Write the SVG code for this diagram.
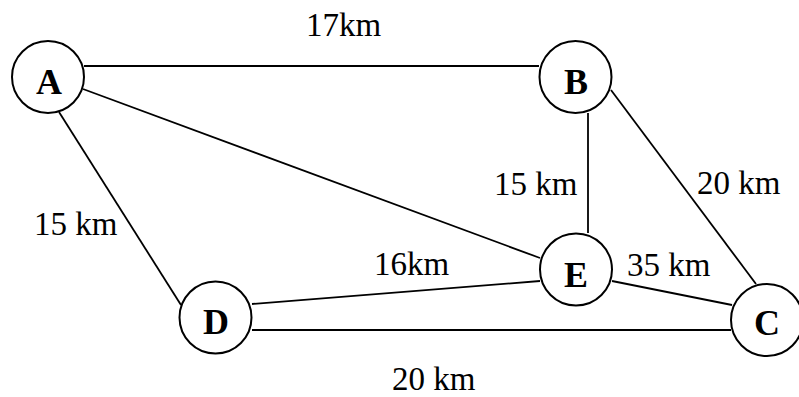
<svg xmlns="http://www.w3.org/2000/svg" width="799" height="397" viewBox="0 0 799 397">
<style>
.n circle{fill:#fff;stroke:#000;stroke-width:2}
.n text{font-family:"Liberation Serif",serif;font-weight:bold;font-size:36px;text-anchor:middle;fill:#000}
.e line{stroke:#000;stroke-width:1.8}
.l{font-family:"Liberation Serif",serif;font-size:33px;fill:#000}
</style>
<rect width="799" height="397" fill="#fff"/>
<g id="connectors" class="e">
<line x1="84" y1="66" x2="539" y2="66"/>
<line x1="83" y1="89" x2="540" y2="258"/>
<line x1="59" y1="112" x2="181" y2="305"/>
<line x1="588" y1="113" x2="588" y2="233"/>
<line x1="611" y1="90" x2="756" y2="284"/>
<line x1="252" y1="304" x2="540" y2="281"/>
<line x1="252" y1="330" x2="731" y2="330"/>
<line x1="612" y1="281" x2="732" y2="305"/>
</g>
<g id="labels">
<text class="l" x="306" y="36">17km</text>
<text class="l" x="34" y="235">15 km</text>
<text class="l" x="494" y="195">15 km</text>
<text class="l" x="697" y="194">20 km</text>
<text class="l" x="374" y="275">16km</text>
<text class="l" x="627" y="276">35 km</text>
<text class="l" x="392" y="390">20 km</text>
</g>
<g id="node-A" class="n"><circle cx="48" cy="77" r="36"/><text x="49" y="94">A</text></g>
<g id="node-B" class="n"><circle cx="575.5" cy="77" r="36"/><text x="576" y="94">B</text></g>
<g id="node-E" class="n"><circle cx="576" cy="269.5" r="36"/><text x="576" y="287">E</text></g>
<g id="node-D" class="n"><circle cx="215.5" cy="317.5" r="36"/><text x="216" y="334">D</text></g>
<g id="node-C" class="n"><circle cx="767" cy="320" r="36"/><text x="767" y="335">C</text></g>
</svg>
